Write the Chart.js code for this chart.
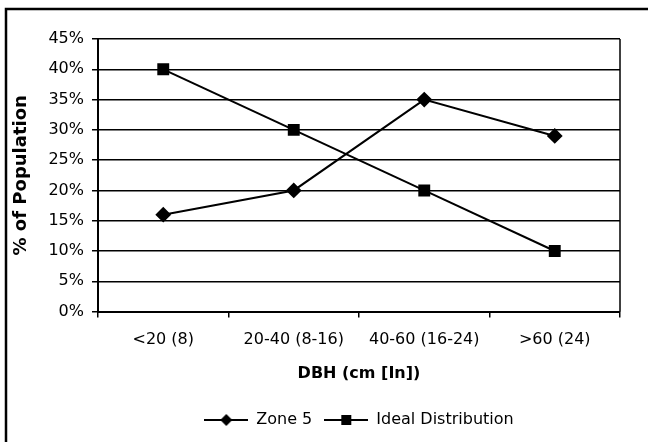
<!DOCTYPE html>
<html>
<head>
<meta charset="utf-8">
<script src="https://cdn.jsdelivr.net/npm/chart.js@4.4.1/dist/chart.umd.min.js"></script>
<style>
html,body{margin:0;padding:0;background:#fff;}
#wrap{position:relative;width:648px;height:442px;}
canvas{display:block;}
</style>
</head>
<body>
<div id="wrap"><canvas id="c" width="648" height="442"></canvas></div>
<script>
// ---- data ----
const categories = ['<20 (8)', '20-40 (8-16)', '40-60 (16-24)', '>60 (24)'];
const zone5 = [16, 20, 35, 29];
const idealDistribution = [40, 30, 20, 10];
const seriesNames = ['Zone 5', 'Ideal Distribution'];
const yMin = 0, yMax = 45, yStep = 5;
const xTitle = 'DBH (cm [In])';
const yTitle = '% of Population';

const FONT = "'DejaVu Sans', 'Liberation Sans', Arial, sans-serif";

function legendIcon(kind) {
  const c = document.createElement('canvas');
  c.width = 44; c.height = 14;
  const g = c.getContext('2d');
  g.strokeStyle = '#000'; g.lineWidth = 2;
  g.beginPath(); g.moveTo(0, 7); g.lineTo(44, 7); g.stroke();
  g.fillStyle = '#000';
  g.beginPath();
  if (kind === 'diamond') {
    g.moveTo(22, 1); g.lineTo(28, 7); g.lineTo(22, 13); g.lineTo(16, 7); g.closePath();
  } else {
    g.rect(17, 2, 10, 10);
  }
  g.fill();
  return c;
}
const icons = [legendIcon('diamond'), legendIcon('square')];

const framePlugin = {
  id: 'frame',
  beforeDraw(chart) {
    const ctx = chart.ctx;
    ctx.save();
    ctx.fillStyle = '#fff';
    ctx.fillRect(0, 0, chart.width, chart.height);
    ctx.strokeStyle = '#000';
    ctx.lineWidth = 2.5;
    ctx.beginPath();
    ctx.moveTo(6, 442);
    ctx.lineTo(6, 9);
    ctx.lineTo(648, 9);
    ctx.stroke();
    ctx.restore();
  },
  beforeDatasetsDraw(chart) {
    const a = chart.chartArea, ctx = chart.ctx;
    ctx.save();
    ctx.strokeStyle = '#000';
    ctx.lineWidth = 1.5;
    ctx.beginPath();
    ctx.moveTo(a.right, a.top);
    ctx.lineTo(a.right, a.bottom);
    ctx.stroke();
    ctx.restore();
  }
};

new Chart(document.getElementById('c'), {
  type: 'line',
  data: {
    labels: categories,
    datasets: [
      {
        label: seriesNames[0], data: zone5,
        borderColor: '#000', backgroundColor: '#000', borderWidth: 2,
        pointStyle: 'rectRot', pointRadius: 6.5, pointHoverRadius: 6.5,
        pointBackgroundColor: '#000', pointBorderColor: '#000', tension: 0
      },
      {
        label: seriesNames[1], data: idealDistribution,
        borderColor: '#000', backgroundColor: '#000', borderWidth: 2,
        pointStyle: 'rect', pointRadius: 7, pointHoverRadius: 7,
        pointBackgroundColor: '#000', pointBorderColor: '#000', tension: 0
      }
    ]
  },
  options: {
    responsive: false,
    animation: false,
    devicePixelRatio: 1,
    layout: { padding: { top: 39, right: 28, left: 8, bottom: 4 } },
    plugins: {
      tooltip: { enabled: false },
      legend: {
        position: 'bottom',
        fullSize: false,
        labels: {
          usePointStyle: true,
          pointStyleWidth: 44,
          color: '#000',
          font: { family: FONT, size: 16 },
          padding: 12,
          generateLabels(chart) {
            return Chart.defaults.plugins.legend.labels.generateLabels(chart)
              .map((l, i) => Object.assign(l, { pointStyle: icons[i] }));
          }
        }
      }
    },
    scales: {
      x: {
        type: 'category',
        offset: true,
        grid: { offset: true, drawOnChartArea: false, drawTicks: true, tickLength: 6, color: '#000', lineWidth: 1.5 },
        border: { color: '#000', width: 2 },
        ticks: { color: '#000', font: { family: FONT, size: 16 }, padding: 13, maxRotation: 0, autoSkip: false },
        title: { display: true, text: xTitle, color: '#000', font: { family: FONT, size: 16, weight: 'bold' }, padding: { top: 1, bottom: 17 } }
      },
      y: {
        min: yMin, max: yMax,
        ticks: { stepSize: yStep, color: '#000', font: { family: FONT, size: 16 }, padding: 8, callback: v => v + '%' },
        grid: { color: '#000', lineWidth: 1.5, tickLength: 6 },
        border: { color: '#000', width: 2 },
        title: { display: true, text: yTitle, color: '#000', font: { family: FONT, size: 18, weight: 'bold' }, padding: { top: 3, bottom: 0 } },
        afterFit(s) { s.width = 90; }
      }
    }
  },
  plugins: [framePlugin]
});
</script>
</body>
</html>
